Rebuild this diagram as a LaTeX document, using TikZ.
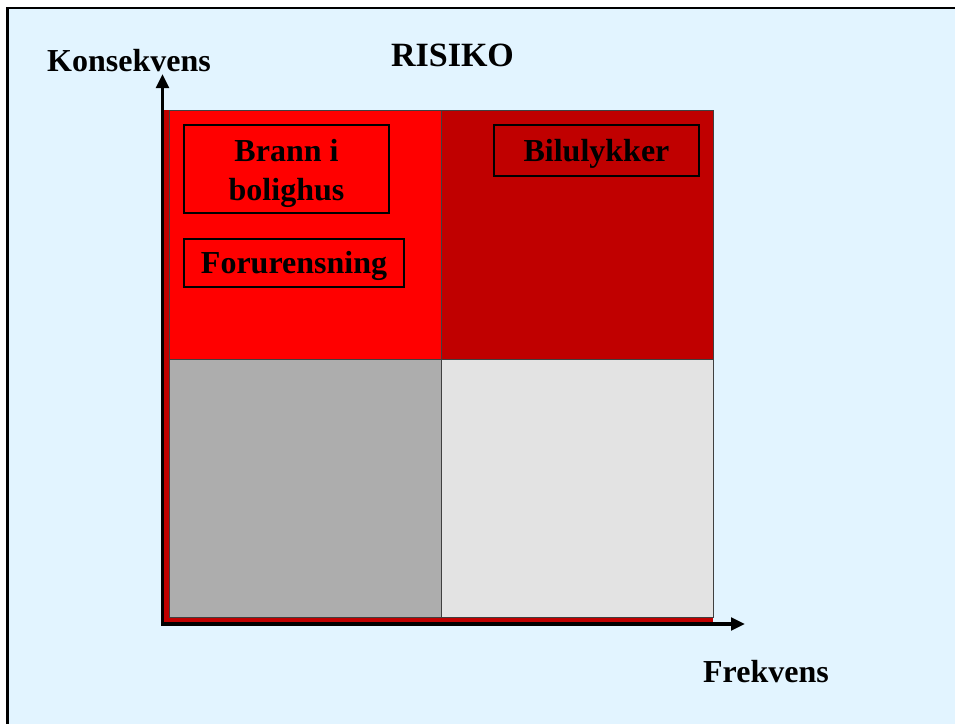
\documentclass[tikz,border=0pt]{standalone}
\usepackage{fontspec}
\setmainfont{Liberation Serif}
\usetikzlibrary{arrows.meta}
\definecolor{bgblue}{HTML}{E2F4FF}
\definecolor{hired}{HTML}{FF0000}
\definecolor{dkred}{HTML}{C00000}
\definecolor{midgray}{HTML}{ADADAD}
\definecolor{ltgray}{HTML}{E3E3E3}
\tikzset{
  lbl/.style={font=\fontsize{32}{38}\selectfont\bfseries, inner sep=0pt, anchor=base},
  quad/.style={draw=black!75, line width=0.8pt},
  riskbox/.style={draw=black, line width=1.3pt, font=\fontsize{32}{38}\selectfont\bfseries, align=center, inner sep=0pt},
  axis/.style={line width=3.5pt, {Triangle[length=14pt,width=12.5pt]}-{Triangle[length=14pt,width=12.5pt]}}
}
\begin{document}
\begin{tikzpicture}[x=1pt,y=-1pt]
\useasboundingbox (0,0) rectangle (955,723);
\clip (0,0) rectangle (955,723);
\fill[white] (0,0) rectangle (955,723);
\fill[bgblue] (7.5,8) rectangle (960,730);
\draw[line width=2.8pt] (7.5,730) -- (7.5,8) -- (960,8);
% shadow
\fill[dkred] (163,110) rectangle (713,623);
% quadrants
\path[quad, fill=hired] (169,110) rectangle (441,359);
\path[quad, fill=dkred] (441,110) rectangle (713,359);
\path[quad, fill=midgray] (169,359) rectangle (441,617);
\path[quad, fill=ltgray] (441,359) rectangle (713,617);
% axes
\coordinate (ytip) at (162.5,74);
\coordinate (xtip) at (745,624);
\draw[axis] (ytip) |- (xtip);
% labels
\node[lbl] (kons) at (129,71) {Konsekvens};
\node[lbl, font=\fontsize{34}{40}\selectfont\bfseries] (risiko) at (452.5,66) {RISIKO};
\node[lbl] (frek) at (766,682) {Frekvens};
% boxes
\node[riskbox, minimum width=205pt, minimum height=88pt] (brann) at (286.5,169) {};
\node[riskbox, draw=none, line width=0pt, font=\fontsize{32}{39}\selectfont\bfseries] (branntxt) at (286.5,173) {Brann i\\bolighus};
\node[riskbox, minimum width=220pt, minimum height=48pt, text height=24pt, text depth=4pt] (forur) at (294,263) {Forurensning};
\node[riskbox, line width=2pt, minimum width=205pt, minimum height=51pt, text height=24pt, text depth=3pt] (bil) at (596.5,150.5) {Bilulykker};
\end{tikzpicture}
\end{document}
